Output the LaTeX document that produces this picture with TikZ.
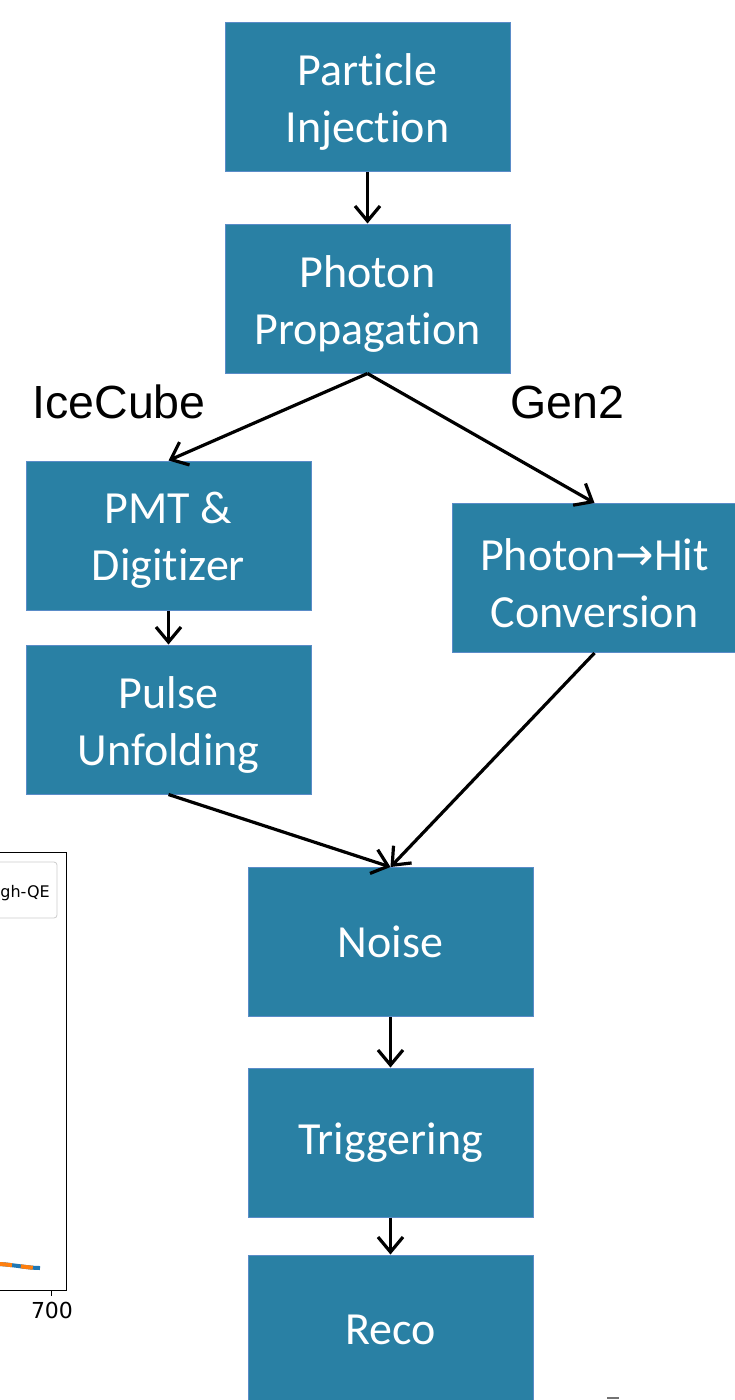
\documentclass[tikz,border=0pt]{standalone}
\usepackage{fontspec}
\setmainfont[Ligatures=NoCommon]{Carlito}
\newfontfamily\lsans{Liberation Sans}
\newfontfamily\dvs{DejaVu Sans}
\usetikzlibrary{arrows.meta}
\definecolor{boxfill}{RGB}{41,128,164}
\definecolor{boxline}{RGB}{90,140,200}
\definecolor{mplblue}{RGB}{31,119,180}
\definecolor{mplorange}{RGB}{255,127,14}
\tikzset{
  stepbox/.style={draw=boxline, line width=1pt, fill=boxfill, text=white,
    minimum width=285pt, minimum height=149pt, inner sep=0pt, align=center,
    font=\fontsize{46}{57}\selectfont},
  boxtext/.style={text=white, inner sep=0pt, align=center,
    font=\fontsize{46}{57}\selectfont, yshift=-5pt},
  flow/.style={line width=3.2pt, -{Straight Barb[length=15pt,width=25pt,line width=3.2pt]}},
  lbl/.style={font=\lsans\fontsize{46.5}{50}\selectfont, inner sep=0pt},
  axline/.style={line width=1pt, black},
}
\begin{document}
\begin{tikzpicture}[x=1pt,y=-1pt]
\useasboundingbox (0,0) rectangle (735,1400);
\clip (0,0) rectangle (735,1400);
\fill[white] (0,0) rectangle (735,1400);

% plot fragment on the left
\draw[axline] (0,852) -- (66,852) -- (66,1290) -- (0,1290);
\draw[axline] (51,1290) -- (51,1296);
\node[font=\dvs\fontsize{22}{24}\selectfont, anchor=base, inner sep=0pt] (tick700) at (52,1318) {700};
\draw[draw=black!20, fill=white, rounded corners=3pt, line width=0.8pt] (-10,862) rectangle (57,918);
\node[font=\dvs\fontsize{16}{18}\selectfont, anchor=base east, inner sep=0pt] (legtxt) at (50,897) {gh-QE};
\draw[mplblue, line width=4pt] (0,1264) .. controls (15,1265) and (28,1268) .. (40,1268);
\draw[mplorange, line width=4pt, dash pattern=on 12pt off 9pt] (0,1264) .. controls (15,1265) and (28,1268) .. (40,1268);

% page number fragment
\draw[black!55, line width=1.5pt] (607,1398) -- (619,1398);

% boxes
\node[stepbox] (inj)   at (367.5,97)   {};
\node[boxtext] (injt)  at (inj.center) {Particle\\Injection};
\node[stepbox] (prop)  at (367.5,298.5) {};
\node[boxtext] (propt) at (prop.center) {Photon\\Propagation};
\node[stepbox] (pmt)   at (168.5,535.5) {};
\node[boxtext] (pmtt)  at (pmt.center) {PMT \&\\Digitizer};
\node[stepbox] (pulse) at (168.5,719.5) {};
\node[boxtext] (pulset) at (pulse.center) {Pulse\\Unfolding};
\node[stepbox] (conv)  at (594.5,578)  {};
\node[boxtext] (convt) at (conv.center) {Photon{\dvs →}Hit\\Conversion};
\node[stepbox] (noise) at (390.5,942)  {Noise};
\node[stepbox] (trig)  at (390.5,1142.5) {Triggering};
\node[stepbox, minimum height=150pt] (reco) at (390.5,1330) {Reco};

% labels
\node[lbl, anchor=base] (icecube) at (119,418) {IceCube};
\node[lbl, anchor=base] (gen2) at (567,418) {Gen2};

% connectors
\draw[flow] (inj.south) -- (prop.north);
\draw[flow] (prop.south) -- (pmt.north);
\draw[flow] (prop.south) -- (conv.north);
\draw[flow] (pmt.south) -- (pulse.north);
\draw[flow] (pulse.south) -- (noise.north);
\draw[flow] (conv.south) -- (noise.north);
\draw[flow] (noise.south) -- (trig.north);
\draw[flow] (trig.south) -- (reco.north);
\end{tikzpicture}
\end{document}
